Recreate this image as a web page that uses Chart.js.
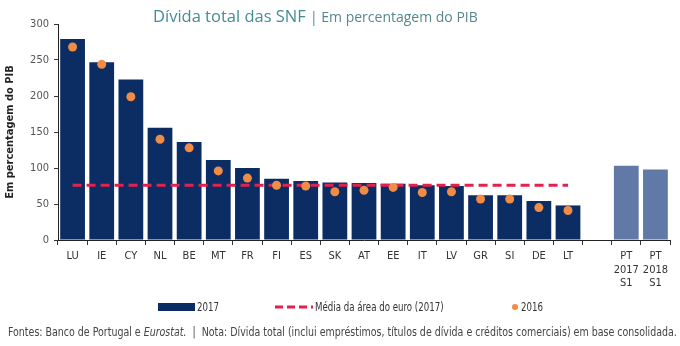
<!DOCTYPE html>
<html>
<head>
<meta charset="utf-8">
<script src="https://cdn.jsdelivr.net/npm/chart.js@4.4.1/dist/chart.umd.min.js"></script>
<style>
  body { margin: 0; background: #fff; }
  #wrap { position: relative; width: 680px; height: 346px; overflow: hidden; }
  #title { position: absolute; left: 153px; top: 4px; font-family: 'Open Sans', sans-serif; white-space: nowrap; }
  #title .main { font-size: 16.5px; color: #448c97; }
  #title .sub { font-size: 14px; color: #56878f; }
  #legend { position: absolute; left: 0; top: 299px; width: 680px; height: 16px;
            font: 12px 'DejaVu Sans Condensed', sans-serif; color: #333; }
  .item { position: absolute; top: 0; height: 16px; display: flex; align-items: center; white-space: nowrap; }
  .item canvas { margin-right: 2px; }
  .item span { display: inline-block; transform-origin: left center; transform: scaleX(0.8); }
  #note { position: absolute; left: 8px; top: 325px; white-space: nowrap; transform-origin: left top;
          font: 12px 'DejaVu Sans Condensed', sans-serif; color: #444; }
</style>
</head>
<body>
<div id="wrap">
  <canvas id="snfChart" width="680" height="346"></canvas>
  <div id="title"><span class="main">Dívida total das SNF</span> <span class="sub">| Em percentagem do PIB</span></div>
  <div id="legend"></div>
  <div id="note">Fontes: Banco de Portugal e <i>Eurostat.</i>&nbsp; |&nbsp; Nota: Dívida total (inclui empréstimos, títulos de dívida e créditos comerciais) em base consolidada.</div>
</div>
<script>
// Categories (empty slot separates the euro area from Portugal)
const countries = ['LU', 'IE', 'CY', 'NL', 'BE', 'MT', 'FR', 'FI', 'ES', 'SK', 'AT', 'EE', 'IT', 'LV', 'GR', 'SI', 'DE', 'LT', '',
    ['PT', '2017', 'S1'], ['PT', '2018', 'S1']];

// 2017 debt, % of GDP
const debt2017 = [279, 247, 223, 156, 136, 111, 100, 85, 82, 80, 79, 78, 76, 75, 62, 62, 54, 48, null, 103, 98];

// 2016 debt, % of GDP
const debt2016 = [268, 244, 199, 140, 128, 96, 86, 76, 75, 67, 69, 73, 66, 67, 57, 57, 45, 41, null, null, null];

// Euro area average (2017)
const euroAverage = [76, 76, 76, 76, 76, 76, 76, 76, 76, 76, 76, 76, 76, 76, 76, 76, 76, 76, null, null, null];

const yTicks = [0, 50, 100, 150, 200, 250, 300];

const NAVY = '#0c2d64';
const PT_BLUE = '#6079a6';
const RED = '#e2214f';
const ORANGE = '#f08c46';
const LABEL_FONT = "'DejaVu Sans Condensed', sans-serif";

const ctx = document.getElementById('snfChart').getContext('2d');

const chart = new Chart(ctx, {
    data: {
        labels: countries,
        datasets: [
            {
                type: 'bar',
                label: '2017',
                data: debt2017,
                backgroundColor: c => String(countries[c.index]).startsWith('PT') ? PT_BLUE : NAVY,
                barPercentage: 0.85,
                categoryPercentage: 1,
                order: 3
            },
            {
                type: 'line',
                label: 'Média da área do euro (2017)',
                data: euroAverage,
                borderColor: RED,
                borderWidth: 3,
                borderDash: [9, 5],
                pointRadius: 0,
                fill: false,
                spanGaps: false,
                order: 2
            },
            {
                type: 'line',
                label: '2016',
                data: debt2016,
                showLine: false,
                pointRadius: 4.5,
                pointBackgroundColor: ORANGE,
                pointBorderWidth: 0,
                order: 1
            }
        ]
    },
    options: {
        responsive: false,
        animation: false,
        layout: { padding: { top: 24, right: 10, left: 0, bottom: 0 } },
        plugins: {
            legend: { display: false },
            tooltip: { enabled: false }
        },
        scales: {
            x: {
                grid: { display: true, offset: true, drawOnChartArea: false, tickLength: 5, color: '#333' },
                border: { color: '#222', width: 1 },
                ticks: {
                    autoSkip: false, maxRotation: 0, padding: 5, color: '#333',
                    font: { family: LABEL_FONT, size: 11, lineHeight: 1.2 }
                },
                afterFit: s => { s.height = 106; }
            },
            y: {
                min: 0, max: 300,
                afterBuildTicks: s => { s.ticks = yTicks.map(v => ({ value: v })); },
                grid: { drawOnChartArea: false, tickLength: 4, color: '#333' },
                border: { color: '#222', width: 1 },
                ticks: { padding: 5, color: '#555', font: { family: LABEL_FONT, size: 11 } },
                title: {
                    display: true, text: 'Em percentagem do PIB', color: '#222',
                    font: { family: LABEL_FONT, size: 11, weight: 'bold' }, padding: { top: 4, bottom: 0 }
                },
                afterFit: s => { s.width = 58; }
            }
        }
    }
});

// HTML legend built from the datasets
function legendIcon(ds) {
    const c = document.createElement('canvas');
    const g = c.getContext('2d');
    if (ds.type === 'bar') {
        c.width = 37; c.height = 8;
        g.fillStyle = NAVY; g.fillRect(0, 0, 37, 8);
    } else if (ds.showLine === false) {
        c.width = 8; c.height = 8;
        g.fillStyle = ORANGE; g.beginPath(); g.arc(4, 4, 3, 0, Math.PI * 2); g.fill();
    } else {
        c.width = 38; c.height = 8;
        g.strokeStyle = RED; g.lineWidth = 3; g.setLineDash([8, 4]);
        g.beginPath(); g.moveTo(0, 4); g.lineTo(38, 4); g.stroke();
    }
    return c;
}

const legendLeft = [158, 275, 511];
const legendEl = document.getElementById('legend');
chart.data.datasets.forEach((ds, i) => {
    const item = document.createElement('div');
    item.className = 'item';
    item.style.left = legendLeft[i] + 'px';
    item.appendChild(legendIcon(ds));
    const txt = document.createElement('span');
    txt.textContent = ds.label;
    item.appendChild(txt);
    legendEl.appendChild(item);
});

// squeeze the footnote to the width it has in the source
const note = document.getElementById('note');
note.style.transform = 'scaleX(' + (669 / note.scrollWidth) + ')';
</script>
</body>
</html>
